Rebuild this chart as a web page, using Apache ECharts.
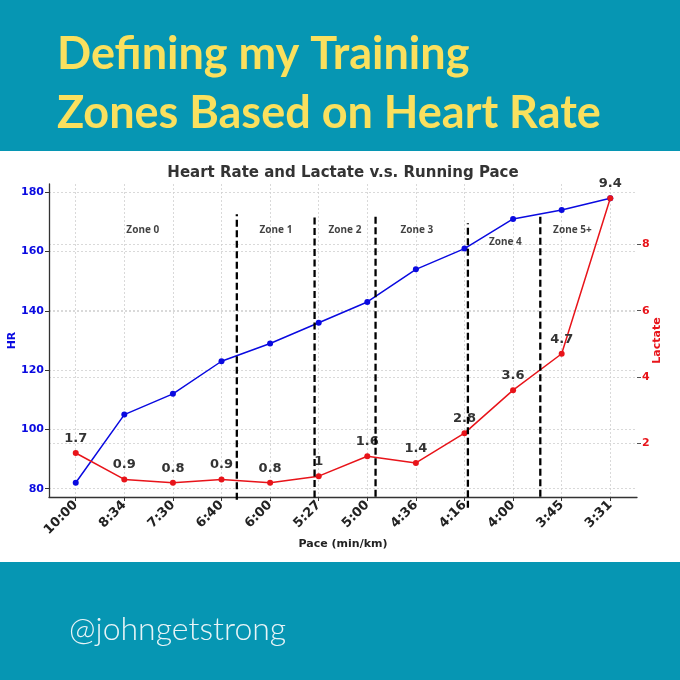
<!DOCTYPE html>
<html><head><meta charset="utf-8">
<script src="https://cdn.jsdelivr.net/npm/echarts@6/dist/echarts.min.js"></script>
<style>html,body{margin:0;padding:0;background:#fff}#c{width:680px;height:680px}</style>
</head><body><div id="c"></div>
<script>
const paces = ['10:00','8:34','7:30','6:40','6:00','5:27','5:00','4:36','4:16','4:00','3:45','3:31'];
const heartRate = [82,105,112,123,129,136,143,154,161,171,174,178];
const lactate = [1.7,0.9,0.8,0.9,0.8,1.0,1.6,1.4,2.3,3.6,4.7,9.4];
const lactateLabels = ['1.7','0.9','0.8','0.9','0.8','1','1.6','1.4','2.8','3.6','4.7','9.4'];
const hrTicks = [80,100,120,140,160,180];
const lactateTicks = [2,4,6,8];
const paceTicks = paces.map((p,i)=>i);
const zoneBoundaries = [3.315,4.915,6.17,8.07,9.56];
const zoneLineTop = [172.6,172.6,172.6,169.6,172.6];
const zoneLineBottom = [76.3,77,77.3,73.6,77.3];
const zoneNames = ['Zone 0','Zone 1','Zone 2','Zone 3','Zone 4','Zone 5+'];
const zoneLabelX = [1.38,4.12,5.54,7.02,8.84,10.22];
const zoneLabelHR = [167.2,167.2,167.2,167.2,163.2,167.2];

const TEAL = '#0696b3';
const YELLOW = '#fae05e';
const BLUE = '#0a0ae0';
const RED = '#e8141a';
const gridLine = {show:true, lineStyle:{color:'#d0d0d0', type:[2,2], width:0.8}};

const chart = echarts.init(document.getElementById('c'), null, {renderer:'canvas'});

const zoneLineData = zoneBoundaries.map((x,i)=>[x, zoneLineBottom[i], zoneLineTop[i]]);

chart.setOption({
  animation:false,
  backgroundColor:'#fff',
  graphic:[
    {type:'rect', shape:{x:0,y:0,width:680,height:151}, style:{fill:TEAL}, z:0},
    {type:'rect', shape:{x:0,y:562,width:680,height:118}, style:{fill:TEAL}, z:0},
    {type:'text', x:57, y:54, style:{text:'Defining my Training', fill:YELLOW, font:'bold 45px Lato', textVerticalAlign:'middle'}},
    {type:'text', x:57, y:113, style:{text:'Zones Based on Heart Rate', fill:YELLOW, font:'bold 45px Lato', textVerticalAlign:'middle'}},
    {type:'text', x:69, y:630, style:{text:'@johngetstrong', fill:'#e8f4f7', font:'300 32px Lato', textVerticalAlign:'middle'}},
    {type:'text', x:343, y:173, style:{text:'Heart Rate and Lactate v.s. Running Pace', fill:'#333', font:'bold 15px "DejaVu Sans"', textAlign:'center', textVerticalAlign:'middle'}}
  ],
  grid:{left:49, right:43, top:184, bottom:183, outerBoundsMode:'none', containLabel:false},
  xAxis:[{
    type:'value', min:-0.55, max:11.55,
    name:'Pace (min/km)', nameLocation:'middle', nameGap:42, nameMoveOverlap:false,
    nameTextStyle:{fontFamily:'DejaVu Sans', fontWeight:'bold', fontSize:11, color:'#222'},
    axisLine:{show:true, onZero:false, lineStyle:{color:'#333', width:1.3}},
    axisTick:{show:true, customValues:paceTicks, length:4, lineStyle:{color:'#333'}},
    axisLabel:{customValues:paceTicks, rotate:45, margin:6, formatter:v=>paces[Math.round(v)],
      fontFamily:'DejaVu Sans', fontWeight:'bold', fontSize:13, color:'#222'},
    splitLine:gridLine
  }],
  yAxis:[{
    type:'value', position:'left', min:77.2, max:182.8,
    name:'HR', nameLocation:'middle', nameRotate:90, nameGap:31, nameMoveOverlap:false,
    nameTextStyle:{fontFamily:'DejaVu Sans', fontWeight:'bold', fontSize:11, color:BLUE},
    axisLine:{show:true, onZero:false, lineStyle:{color:'#333', width:1.3}},
    axisTick:{show:true, customValues:hrTicks, length:4, lineStyle:{color:'#333'}},
    axisLabel:{customValues:hrTicks, margin:5, fontFamily:'DejaVu Sans', fontWeight:'bold', fontSize:11, color:BLUE},
    splitLine:gridLine
  },{
    type:'value', position:'right', min:0.37, max:9.83,
    name:'Lactate', nameLocation:'middle', nameRotate:90, nameGap:15, nameMoveOverlap:false,
    nameTextStyle:{fontFamily:'DejaVu Sans', fontWeight:'bold', fontSize:11, color:RED},
    axisLine:{show:false, onZero:false},
    axisTick:{show:true, customValues:lactateTicks, length:4, lineStyle:{color:'#555'}},
    axisLabel:{customValues:lactateTicks, margin:5, fontFamily:'DejaVu Sans', fontWeight:'bold', fontSize:11, color:RED},
    splitLine:gridLine
  }],
  series:[
    {type:'line', name:'HR', xAxisIndex:0, yAxisIndex:0, z:3,
      data:heartRate.map((v,i)=>[i,v]), symbol:'circle', symbolSize:6,
      itemStyle:{color:BLUE}, lineStyle:{color:BLUE, width:1.5}},
    {type:'line', name:'Lactate', xAxisIndex:0, yAxisIndex:1, z:3,
      data:lactate.map((v,i)=>[i,v]), symbol:'circle', symbolSize:6,
      itemStyle:{color:RED}, lineStyle:{color:RED, width:1.5},
      label:{show:true, position:'top', distance:5, formatter:p=>lactateLabels[p.dataIndex],
        fontFamily:'DejaVu Sans', fontWeight:'bold', fontSize:13, color:'#333'}},
    {type:'custom', xAxisIndex:0, yAxisIndex:0, z:5, clip:false, silent:true,
      data:zoneLineData,
      renderItem:(params, api)=>{
        const p0 = api.coord([api.value(0), api.value(1)]);
        const p1 = api.coord([api.value(0), api.value(2)]);
        return {type:'line', shape:{x1:p0[0], y1:p0[1], x2:p1[0], y2:p1[1]},
          style:{stroke:'#000', lineWidth:2.3, lineDash:[7,3.5]}};
      }},
    {type:'scatter', xAxisIndex:0, yAxisIndex:0, z:6, silent:true, symbolSize:1,
      itemStyle:{color:'rgba(0,0,0,0)'},
      data:zoneNames.map((n,i)=>({name:n, value:[zoneLabelX[i], zoneLabelHR[i]]})),
      label:{show:true, position:'inside', formatter:p=>p.name,
        fontFamily:'Noto Sans', fontWeight:'bold', fontSize:10, color:'#111'}}
  ]
});
</script></body></html>
